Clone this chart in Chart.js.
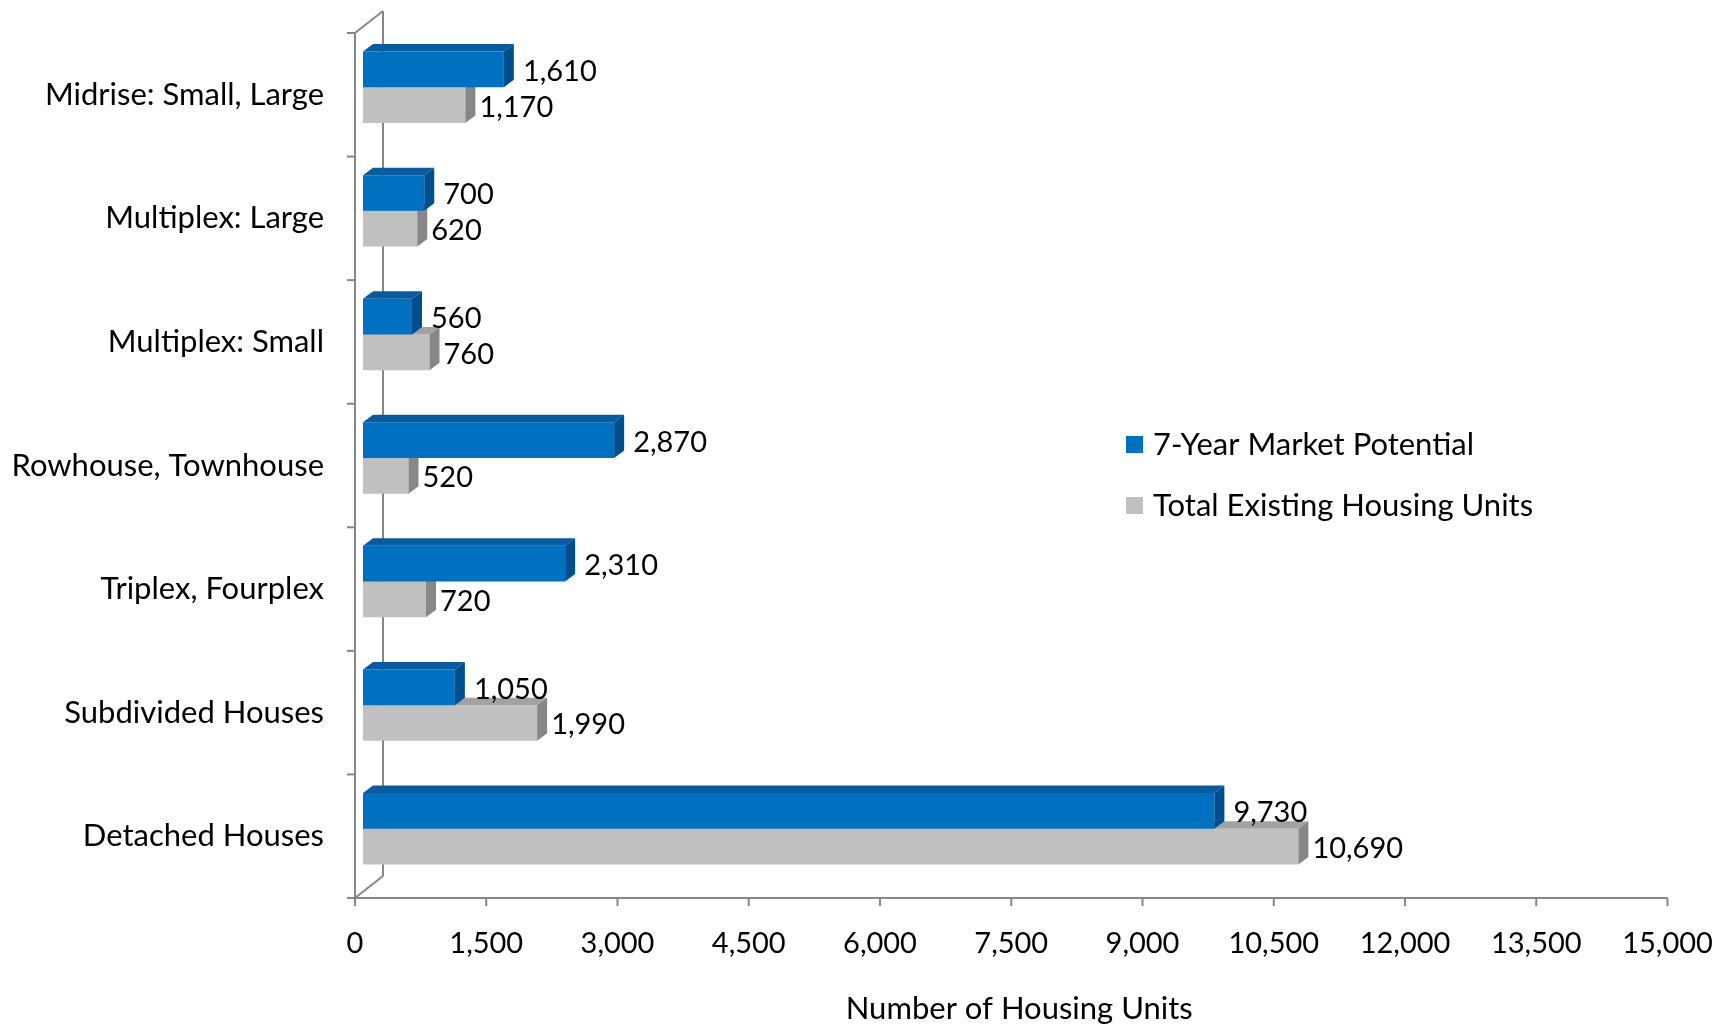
<!DOCTYPE html>
<html>
<head>
<meta charset="utf-8">
<title>Housing Units by Type</title>
<script src="https://cdn.jsdelivr.net/npm/chart.js@4.4.1/dist/chart.umd.min.js"></script>
<style>
  html, body { margin: 0; padding: 0; background: #fff; }
  #wrap { width: 1724px; height: 1028px; }
</style>
</head>
<body>
<div id="wrap"><canvas id="housing-chart" width="1724" height="1028"></canvas></div>
<script>
const categories = [
  "Midrise: Small, Large",
  "Multiplex: Large",
  "Multiplex: Small",
  "Rowhouse, Townhouse",
  "Triplex, Fourplex",
  "Subdivided Houses",
  "Detached Houses",
];
const marketPotential = [1610, 700, 560, 2870, 2310, 1050, 9730];
const existingUnits = [1170, 620, 760, 520, 720, 1990, 10690];
const axisMax = 15000;
const axisStep = 1500;

// 3D look: depth of the bar faces, and where the front / back planes sit
const DEPTH_X = 10;
const DEPTH_Y = 7.5;
const FRONT_DX = -8;
const FRONT_DY = 7.5;
const BACK_DX = 20;
const BACK_DY = -14.5;
const LINE_COLOR = "#878787";
const TEXT_FONT = "31px Lato";
const NUMBER_FONT = "29px Lato";

Chart.defaults.font.family = "Lato";
Chart.defaults.font.size = 29;
Chart.defaults.color = "#000";

function line(ctx, x1, y1, x2, y2) {
  ctx.beginPath();
  ctx.moveTo(x1, y1);
  ctx.lineTo(x2, y2);
  ctx.stroke();
}

function poly(ctx, pts) {
  ctx.beginPath();
  ctx.moveTo(pts[0][0], pts[0][1]);
  for (let i = 1; i < pts.length; i++) ctx.lineTo(pts[i][0], pts[i][1]);
  ctx.closePath();
  ctx.fill();
}

// walls and axes of the 3D box
const framePlugin = {
  id: "frame",
  beforeDatasetsDraw(chart) {
    const ctx = chart.ctx;
    const xs = chart.scales.x;
    const area = chart.chartArea;
    const x0 = xs.getPixelForValue(0);
    const frontX = x0 + FRONT_DX;
    const backX = x0 + BACK_DX;
    const n = chart.data.labels.length;
    const band = (area.bottom - area.top) / n;

    ctx.save();
    ctx.strokeStyle = LINE_COLOR;
    ctx.lineWidth = 2;
    line(ctx, backX, area.top + BACK_DY, backX, area.bottom + BACK_DY);
    line(ctx, frontX, area.top + FRONT_DY, backX, area.top + BACK_DY);
    line(ctx, frontX, area.bottom + FRONT_DY, backX, area.bottom + BACK_DY);
    line(ctx, frontX, area.top + FRONT_DY, frontX, area.bottom + FRONT_DY);
    for (let i = 0; i <= n; i++) {
      const yy = area.top + i * band + FRONT_DY;
      line(ctx, frontX - 8, yy, frontX, yy);
    }
    const axisY = area.bottom + FRONT_DY;
    line(ctx, frontX, axisY, xs.getPixelForValue(xs.max) + FRONT_DX, axisY);
    xs.ticks.forEach((t) => {
      const px = xs.getPixelForValue(t.value) + FRONT_DX;
      line(ctx, px, axisY, px, axisY + 8);
    });
    ctx.restore();
  },
};

// top and end faces for every bar
const barFacesPlugin = {
  id: "barFaces",
  afterDatasetDraw(chart, args) {
    const ctx = chart.ctx;
    const ds = chart.data.datasets[args.index];
    ctx.save();
    args.meta.data.forEach((bar) => {
      const { x, y, base, height } = bar.getProps(["x", "y", "base", "height"], true);
      const top = y - height / 2;
      const bottom = y + height / 2;
      ctx.fillStyle = ds.topColor;
      poly(ctx, [[base, top], [x, top], [x + DEPTH_X, top - DEPTH_Y], [base + DEPTH_X, top - DEPTH_Y]]);
      ctx.fillStyle = ds.sideColor;
      poly(ctx, [[x, top], [x + DEPTH_X, top - DEPTH_Y], [x + DEPTH_X, bottom - DEPTH_Y], [x, bottom]]);
    });
    ctx.restore();
  },
};

// value labels at the end of each bar
const valueLabelPlugin = {
  id: "valueLabels",
  afterDatasetsDraw(chart) {
    const ctx = chart.ctx;
    ctx.save();
    ctx.font = NUMBER_FONT;
    ctx.fillStyle = "#000";
    ctx.textAlign = "left";
    ctx.textBaseline = "middle";
    chart.data.datasets.forEach((ds, i) => {
      chart.getDatasetMeta(i).data.forEach((bar, j) => {
        const text = ds.data[j].toLocaleString("en-US");
        ctx.fillText(text, bar.x + DEPTH_X + ds.labelGap, bar.y + 2);
      });
    });
    ctx.restore();
  },
};

const legendPlugin = {
  id: "sideLegend",
  afterDraw(chart) {
    const ctx = chart.ctx;
    ctx.save();
    ctx.font = TEXT_FONT;
    ctx.textAlign = "left";
    ctx.textBaseline = "middle";
    chart.data.datasets.forEach((ds, i) => {
      const yy = 444 + i * 61;
      ctx.fillStyle = ds.backgroundColor;
      ctx.fillRect(1126, yy - 8, 17, 17);
      ctx.fillStyle = "#000";
      ctx.fillText(ds.label, 1153, yy + 1);
    });
    ctx.restore();
  },
};

const ctx = document.getElementById("housing-chart").getContext("2d");
new Chart(ctx, {
  type: "bar",
  data: {
    labels: categories,
    datasets: [
      {
        label: "7-Year Market Potential",
        data: marketPotential,
        backgroundColor: "#0070c0",
        topColor: "#0a5b9e",
        sideColor: "#004f8c",
        labelGap: 9,
      },
      {
        label: "Total Existing Housing Units",
        data: existingUnits,
        backgroundColor: "#c0c0c0",
        topColor: "#a2a2a2",
        sideColor: "#878787",
        labelGap: 4,
      },
    ],
  },
  options: {
    indexAxis: "y",
    responsive: false,
    animation: false,
    devicePixelRatio: 1,
    layout: { padding: { top: 25.5, right: 48.5, bottom: 0, left: 0 } },
    datasets: {
      bar: { categoryPercentage: 0.578, barPercentage: 1.0, borderWidth: 0 },
    },
    plugins: {
      legend: { display: false },
      tooltip: { enabled: false },
    },
    scales: {
      x: {
        min: 0,
        max: axisMax,
        grid: { display: false, drawTicks: false },
        border: { display: false },
        ticks: {
          stepSize: axisStep,
          padding: 36,
          labelOffset: FRONT_DX,
          maxRotation: 0,
          font: { size: 29 },
          callback: (v) => v.toLocaleString("en-US"),
        },
        title: {
          display: true,
          text: "Number of Housing Units",
          font: { size: 31 },
          padding: { top: 0, bottom: 0 },
        },
        afterFit: (scale) => {
          scale.height = 137.5;
          scale.paddingLeft = 0;
          scale.paddingRight = 0;
        },
      },
      y: {
        grid: { display: false, drawTicks: false },
        border: { display: false },
        ticks: { padding: 39, labelOffset: FRONT_DY, font: { size: 31 } },
        afterFit: (scale) => {
          scale.width = 363;
          scale.paddingTop = 0;
          scale.paddingBottom = 0;
        },
      },
    },
  },
  plugins: [framePlugin, barFacesPlugin, valueLabelPlugin, legendPlugin],
});
</script>
</body>
</html>
